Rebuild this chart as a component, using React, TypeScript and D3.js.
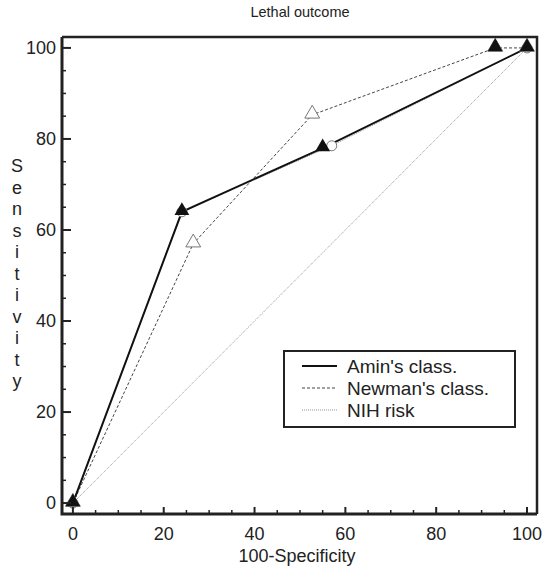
import * as d3 from 'd3';
import { useEffect, useRef } from 'react';

// ROC points (100-specificity, sensitivity)
const aminX = [0, 24, 55, 100];
const aminY = [0, 64, 78, 100];
const newmanX = [0, 26.5, 52.7, 93, 100];
const newmanY = [0, 57, 85.3, 100, 100];
const nihX = [0, 24, 57, 100];
const nihY = [0, 64, 78.5, 100];
const diagX = [0, 100];
const diagY = [0, 100];
const extraX = [93];
const extraY = [100];

const majorTicks = [0, 20, 40, 60, 80, 100];
const minorTicks = d3.range(0, 101, 5);
const legendLabels = ["Amin's class.", "Newman's class.", 'NIH risk'];

const W = 546;
const H = 567;
const font = 'Liberation Sans, Arial, sans-serif';

const App = () => {
    const ref = useRef<SVGSVGElement>(null);

    useEffect(() => {
        const svg = d3.select(ref.current);
        svg.selectAll('*').remove();

        const x = d3.scaleLinear().domain([-2.4, 102.2]).range([62, 537]);
        const y = d3.scaleLinear().domain([-2.4, 102.4]).range([514, 37]);

        const pts = (xs: number[], ys: number[]) => xs.map((v, i) => [v, ys[i]] as [number, number]);
        const line = d3.line<[number, number]>().x(d => x(d[0])).y(d => y(d[1]));

        // title
        svg.append('text').attr('x', 300).attr('y', 17).attr('text-anchor', 'middle')
            .attr('font-family', font).attr('font-size', 14.5).attr('fill', '#222').text('Lethal outcome');

        // lines
        svg.append('path').attr('d', line(pts(diagX, diagY))).attr('fill', 'none')
            .attr('stroke', '#888').attr('stroke-width', 0.9).attr('stroke-dasharray', '1,1');
        svg.append('path').attr('d', line(pts(nihX, nihY))).attr('fill', 'none')
            .attr('stroke', '#999').attr('stroke-width', 1).attr('stroke-dasharray', '1,1');
        svg.append('path').attr('d', line(pts(newmanX, newmanY))).attr('fill', 'none')
            .attr('stroke', '#444').attr('stroke-width', 1).attr('stroke-dasharray', '3,2');
        svg.append('path').attr('d', line(pts(aminX, aminY))).attr('fill', 'none')
            .attr('stroke', '#111').attr('stroke-width', 2);

        const tri = d3.symbol().type(d3.symbolTriangle).size(95);

        // NIH circles
        svg.selectAll('circle.nih').data(pts(nihX, nihY)).enter().append('circle')
            .attr('class', 'nih')
            .attr('cx', d => x(d[0])).attr('cy', d => y(d[1])).attr('r', 5)
            .attr('fill', 'white').attr('stroke', '#777').attr('stroke-width', 1);

        // Newman open triangles
        svg.selectAll('path.newman').data(pts(newmanX, newmanY)).enter().append('path')
            .attr('class', 'newman')
            .attr('transform', d => `translate(${x(d[0])},${y(d[1]) - 1})`)
            .attr('d', tri).attr('fill', 'white').attr('stroke', '#777').attr('stroke-width', 1);

        // Amin filled triangles
        svg.selectAll('path.amin').data(pts(aminX, aminY).concat(pts(extraX, extraY))).enter().append('path')
            .attr('class', 'amin')
            .attr('transform', d => `translate(${x(d[0])},${y(d[1]) - 1})`)
            .attr('d', tri).attr('fill', '#111');

        // frame
        svg.append('path')
            .attr('d', `M${x.range()[0]},${y.range()[1]}H${x.range()[1]}V${y.range()[0]}`)
            .attr('fill', 'none').attr('stroke', '#222').attr('stroke-width', 2.5);
        svg.append('path')
            .attr('d', `M${x.range()[0]},${y.range()[1]}V${y.range()[0]}H${x.range()[1]}`)
            .attr('fill', 'none').attr('stroke', '#222').attr('stroke-width', 3);

        // ticks, pointing inward
        const x0 = x.range()[0];
        const y0 = y.range()[0];
        svg.selectAll('line.xt').data(minorTicks).enter().append('line')
            .attr('x1', d => x(d)).attr('x2', d => x(d))
            .attr('y1', y0).attr('y2', d => y0 - (d % 20 === 0 ? 7 : 4))
            .attr('stroke', '#222').attr('stroke-width', d => (d % 20 === 0 ? 2 : 1.5));
        svg.selectAll('line.yt').data(minorTicks).enter().append('line')
            .attr('y1', d => y(d)).attr('y2', d => y(d))
            .attr('x1', x0).attr('x2', d => x0 + (d % 20 === 0 ? 9 : 4))
            .attr('stroke', '#222').attr('stroke-width', d => (d % 20 === 0 ? 2 : 1.5));

        // tick labels
        svg.selectAll('text.xl').data(majorTicks).enter().append('text')
            .attr('x', d => x(d)).attr('y', 540).attr('text-anchor', 'middle')
            .attr('font-family', font).attr('font-size', 18).attr('fill', '#222').text(d => d);
        svg.selectAll('text.yl').data(majorTicks).enter().append('text')
            .attr('x', 56).attr('y', d => y(d) + 6).attr('text-anchor', 'end')
            .attr('font-family', font).attr('font-size', 18).attr('fill', '#222').text(d => d);

        // axis titles
        svg.append('text').attr('x', 297).attr('y', 562).attr('text-anchor', 'middle')
            .attr('font-family', font).attr('font-size', 18).attr('fill', '#222').text('100-Specificity');
        svg.selectAll('text.yt').data('Sensitivity'.split('')).enter().append('text')
            .attr('x', 17).attr('y', (d, i) => 172 + i * 21.5).attr('text-anchor', 'middle')
            .attr('font-family', font).attr('font-size', 18).attr('fill', '#222').text(d => d);

        // legend
        const lg = svg.append('g');
        lg.append('rect').attr('x', 284).attr('y', 351).attr('width', 231).attr('height', 76)
            .attr('fill', 'white').attr('stroke', '#222').attr('stroke-width', 2);
        const styles = [
            { stroke: '#111', w: 2, dash: null },
            { stroke: '#444', w: 1, dash: '3,2' },
            { stroke: '#999', w: 1, dash: '1,1' },
        ];
        legendLabels.forEach((lab, i) => {
            const yy = 366 + i * 22;
            lg.append('line').attr('x1', 302).attr('x2', 337).attr('y1', yy).attr('y2', yy)
                .attr('stroke', styles[i].stroke).attr('stroke-width', styles[i].w)
                .attr('stroke-dasharray', styles[i].dash);
            lg.append('text').attr('x', 347).attr('y', yy + 7)
                .attr('font-family', font).attr('font-size', 19).attr('fill', '#222').text(lab);
        });
    }, []);

    return <svg ref={ref} width={W} height={H} style={{ position: 'absolute', left: 0, top: 0 }}></svg>;
};

export default App;
